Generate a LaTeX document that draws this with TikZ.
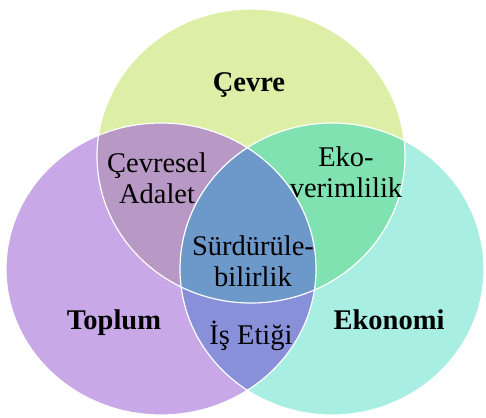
\documentclass[tikz,border=0pt]{standalone}
\usepackage{fontspec}
\setmainfont{Liberation Serif}
\definecolor{cevre}{HTML}{DDEEA6}
\definecolor{toplum}{HTML}{C8A8E6}
\definecolor{ekonomi}{HTML}{A8EEE2}
\definecolor{cevtop}{HTML}{B898C4}
\definecolor{ceveko}{HTML}{80E2B0}
\definecolor{topeko}{HTML}{8890DA}
\definecolor{hepsi}{HTML}{6C98CA}
\begin{document}
\begin{tikzpicture}[x=1pt,y=-1pt,
  lbl/.style={inner sep=0pt,anchor=base,align=center,font=\fontsize{28.5}{31}\selectfont},
  title/.style={lbl,font=\fontsize{28.5}{31}\selectfont\bfseries},
  rim/.style={draw=white,line width=1.2pt}]
\useasboundingbox (0,0) rectangle (486,417);
% the three sets
\def\setC{(251,156) ellipse [x radius=154pt, y radius=147pt]}
\def\setT{(161,269) ellipse [x radius=155pt, y radius=146pt]}
\def\setE{(332,269) ellipse [x radius=152pt, y radius=146pt]}
\fill[cevre] \setC;
\fill[toplum] \setT;
\fill[ekonomi] \setE;
% pairwise overlaps
\begin{scope}\clip \setC; \fill[cevtop] \setT; \end{scope}
\begin{scope}\clip \setC; \fill[ceveko] \setE; \end{scope}
\begin{scope}\clip \setT; \fill[topeko] \setE; \end{scope}
% common part
\begin{scope}\clip \setC; \clip \setT; \fill[hepsi] \setE; \end{scope}
% white rims
\draw[rim] \setC;
\draw[rim] \setT;
\draw[rim] \setE;
% labels (two-line labels sit on the baseline of their last line)
\node[title] (cevre) at (249,92) {Çevre};
\node[title] (toplum) at (114,329) {Toplum};
\node[title] (ekonomi) at (389,329) {Ekonomi};
\node[lbl] (adalet) at (157,203) {Çevresel\\Adalet};
\node[lbl] (verim) at (346,197) {Eko-\\verimlilik};
\node[lbl] (surd) at (253,286) {Sürdürüle-\\bilirlik};
\node[lbl] (etik) at (251,344) {İş Etiği};
\end{tikzpicture}
\end{document}
